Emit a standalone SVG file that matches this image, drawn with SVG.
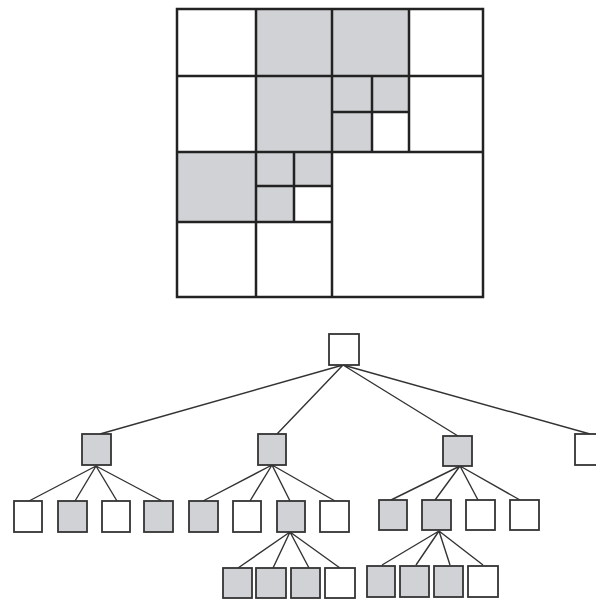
<svg xmlns="http://www.w3.org/2000/svg" width="596" height="601" viewBox="0 0 596 601">
<style>
.g{fill:#d0d2d5}
.w{fill:#ffffff}
.grid{stroke:#222;stroke-width:2.5;fill:none}
.n{stroke:#333;stroke-width:1.8}
.e{stroke:#333;stroke-width:1.4;fill:none}
</style>
<rect width="596" height="601" fill="#fff"/>
<g id="quadtree">
<rect class="g" x="256" y="9" width="153" height="143"/>
<rect class="g" x="177" y="152" width="79" height="70"/>
<rect class="g" x="332" y="76" width="77" height="76"/>
<rect class="w" x="372" y="112" width="37" height="40"/>
<rect class="g" x="256" y="152" width="76" height="70"/>
<rect class="w" x="294" y="186" width="38" height="36"/>
<rect class="grid" x="177" y="9" width="306" height="288"/>
<path class="grid" d="M256 9V297M332 9V297M409 9V152M177 76H483M177 152H483M177 222H332M372 76V152M332 112H409M294 152V222M256 186H332"/>
</g>
<g id="connectors">
<path class="e" d="M343 365L100 434M343 365L277 434M343 365L458 436M343 365L590 434"/>
<path class="e" d="M96 466L29 501M96 466L75 501M96 466L117 501M96 466L162 501"/>
<path class="e" d="M272 465L203 501M272 465L250 501M272 465L290 501M272 465L335 501"/>
<path class="e" d="M460 466L391 500M460 466L435 500M460 466L478 500M460 466L520 500"/>
<path class="e" d="M290 532L238 568M290 532L273 568M290 532L309 568M290 532L340 568"/>
<path class="e" d="M439 531L382 565M439 531L416 565M439 531L450 565M439 531L483 565"/>
</g>
<g id="root"><rect class="n w" x="329" y="334" width="30" height="31"/></g>
<g id="n1"><rect class="n g" x="82" y="434" width="29" height="31"/></g>
<g id="n2"><rect class="n g" x="258" y="434" width="28" height="31"/></g>
<g id="n3"><rect class="n g" x="443" y="436" width="29" height="30"/></g>
<g id="n4"><rect class="n w" x="575" y="434" width="29" height="31"/></g>
<g id="n11"><rect class="n w" x="14" y="501" width="28" height="31"/></g>
<g id="n12"><rect class="n g" x="58" y="501" width="29" height="31"/></g>
<g id="n13"><rect class="n w" x="102" y="501" width="28" height="31"/></g>
<g id="n14"><rect class="n g" x="144" y="501" width="29" height="31"/></g>
<g id="n21"><rect class="n g" x="189" y="501" width="29" height="31"/></g>
<g id="n22"><rect class="n w" x="233" y="501" width="28" height="31"/></g>
<g id="n23"><rect class="n g" x="277" y="501" width="28" height="31"/></g>
<g id="n24"><rect class="n w" x="320" y="501" width="29" height="31"/></g>
<g id="n31"><rect class="n g" x="379" y="500" width="28" height="30"/></g>
<g id="n32"><rect class="n g" x="422" y="500" width="29" height="30"/></g>
<g id="n33"><rect class="n w" x="466" y="500" width="29" height="30"/></g>
<g id="n34"><rect class="n w" x="510" y="500" width="29" height="30"/></g>
<g id="n231"><rect class="n g" x="223" y="568" width="29" height="30"/></g>
<g id="n232"><rect class="n g" x="256" y="568" width="30" height="30"/></g>
<g id="n233"><rect class="n g" x="291" y="568" width="29" height="30"/></g>
<g id="n234"><rect class="n w" x="325" y="568" width="30" height="30"/></g>
<g id="n321"><rect class="n g" x="367" y="566" width="28" height="31"/></g>
<g id="n322"><rect class="n g" x="400" y="566" width="29" height="31"/></g>
<g id="n323"><rect class="n g" x="434" y="566" width="29" height="31"/></g>
<g id="n324"><rect class="n w" x="468" y="566" width="30" height="31"/></g>
</svg>
